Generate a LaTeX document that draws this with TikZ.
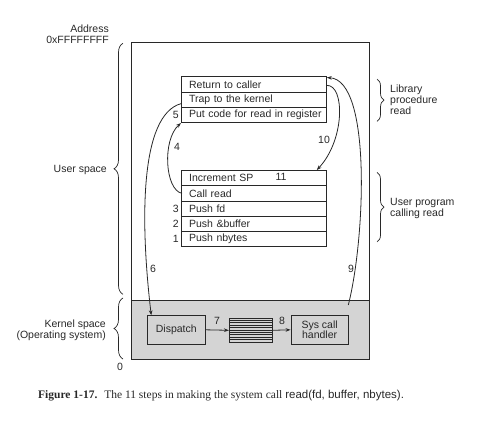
\documentclass[tikz,border=0pt]{standalone}
\usepackage{fontspec}
\setmainfont{Liberation Serif}
\setsansfont{Liberation Sans}
\usetikzlibrary{arrows.meta,decorations.pathreplacing,calc}
\definecolor{kgray}{RGB}{212,212,212}
\definecolor{lcol}{RGB}{40,40,40}
\newcommand{\rowtxt}[1]{\hspace*{3.7pt}#1}
\tikzset{
  lbl/.style={font=\sffamily\fontsize{10.5}{12}\selectfont, text=lcol, inner sep=0pt},
  rowbox/.style={draw=lcol, line width=0.8pt, minimum width=145pt, minimum height=15.3pt,
     text width=137pt, align=left, inner xsep=4pt, inner ysep=0pt,
     font=\sffamily\fontsize{10.5}{12}\selectfont, text=lcol},
  kbox/.style={draw=lcol, line width=0.8pt, fill=kgray, inner sep=0pt, align=center,
     font=\sffamily\fontsize{10.5}{12}\selectfont, text=lcol},
  arr/.style={draw=lcol, line width=0.8pt, -{Stealth[length=5pt,width=3.6pt]}},
  brc/.style={draw=lcol, line width=0.7pt, decorate, decoration={brace, amplitude=#1}},
}
\begin{document}
\begin{tikzpicture}[x=1pt,y=-1pt]
\useasboundingbox (0,0) rectangle (490,422);
% memory frame
\fill[kgray] (131,300) rectangle (369,359);
\draw[lcol, line width=0.9pt] (131,42.7) rectangle (369,359);
\draw[lcol, line width=0.9pt] (131,300) -- (369,300);
% library procedure rows
\node[rowbox, anchor=north west] (r1) at (181,76.3) {\rowtxt{Return to caller}};
\node[rowbox, anchor=north west] (r2) at (181,91.6) {\rowtxt{Trap to the kernel}};
\node[rowbox, anchor=north west] (r3) at (181,106.9) {\rowtxt{Put code for read in register}};
% user program rows
\node[rowbox, anchor=north west] (u1) at (181,170) {\rowtxt{Increment SP}};
\node[rowbox, anchor=north west] (u2) at (181,185.3) {\rowtxt{Call read}};
\node[rowbox, anchor=north west] (u3) at (181,200.6) {\rowtxt{Push fd}};
\node[rowbox, anchor=north west] (u4) at (181,215.9) {\rowtxt{Push \&buffer}};
\node[rowbox, anchor=north west] (u5) at (181,231.2) {\rowtxt{Push nbytes}};
% step numbers at rows
\node[lbl, anchor=east] (n5) at ([xshift=-2pt]r3.west) {5};
\node[lbl, anchor=east] (n3) at ([xshift=-2pt]u3.west) {3};
\node[lbl, anchor=east] (n2) at ([xshift=-2pt]u4.west) {2};
\node[lbl, anchor=east] (n1) at ([xshift=-2pt]u5.west) {1};
\node[lbl] (n11) at (281,177) {11};
% kernel boxes
\node[kbox, minimum width=57.3pt, minimum height=28.3pt] (disp) at (176.3,329.8) {Dispatch};
\node[kbox, minimum width=43.4pt, minimum height=24pt] (stk) at (251,330.3) {};
\foreach \i in {1,...,9} {
  \draw[lcol, line width=0.6pt] ($(stk.north west)+(0,\i*2.4)$) -- ($(stk.north east)+(0,\i*2.4)$);
}
\node[kbox, minimum width=57.3pt, minimum height=28.3pt] (sys) at (319.6,329.8) {Sys call\\[-2pt]handler};
\draw[arr] (disp.east) -- (stk.west);
\draw[arr] (stk.east) -- (sys.west);
\node[lbl] (n7) at (217,321) {7};
\node[lbl] (n8) at (282,321) {8};
% curved arrows
\draw[arr] ([yshift=-4pt]r2.west) .. controls (140,115) and (140,220) .. ([xshift=4pt]disp.north west);
\node[lbl] (n6) at (153,269) {6};
\draw[arr] ([xshift=1pt]u2.west) .. controls (165,190) and (162,140) .. (r3.south west);
\node[lbl] (n4) at (177,147) {4};
\draw[arr] ([yshift=-1pt]r1.east) .. controls (345,85) and (345,140) .. ([xshift=-10pt]u1.north east);
\node[lbl] (n10) at (324,139.5) {10};
\coordinate (k9) at (348.3,305);
\draw[arr] (k9) .. controls (365,240) and (372,80) .. ([yshift=-1.3pt]r1.north east);
\node[lbl] (n9) at (351,269) {9};
% left braces and labels
\draw[brc=9pt] (123,294.3) -- (123,43.3);
\draw[brc=9pt] (123,359) -- (123,298);
\node[lbl, anchor=east, align=right] (addr) at (109,34) {Address\\[-1pt]0xFFFFFFFF};
\node[lbl, anchor=east] (us) at (107,170) {User space};
\node[lbl, anchor=east, align=right] (ks) at (106,330.5) {Kernel space\\[-1pt](Operating system)};
\node[lbl] (zero) at (120,367) {0};
% right braces and labels
\draw[brc=7pt] (377,79) -- (377,121.3);
\draw[brc=7pt] (377,172.3) -- (377,242);
\node[lbl, anchor=west, align=left] (lib) at (390,100) {Library\\[-1pt]procedure\\[-1pt]read};
\node[lbl, anchor=west, align=left] (upr) at (390,208) {User program\\[-1pt]calling read};
% caption
\node[anchor=west, inner sep=0pt, text=lcol, font=\fontsize{11.5}{13}\selectfont] (cap) at (38,396)
  {\textbf{Figure 1-17.}\hspace{0.6em}The 11 steps in making the system call \textsf{read(fd, buffer, nbytes).}};
\end{tikzpicture}
\end{document}
